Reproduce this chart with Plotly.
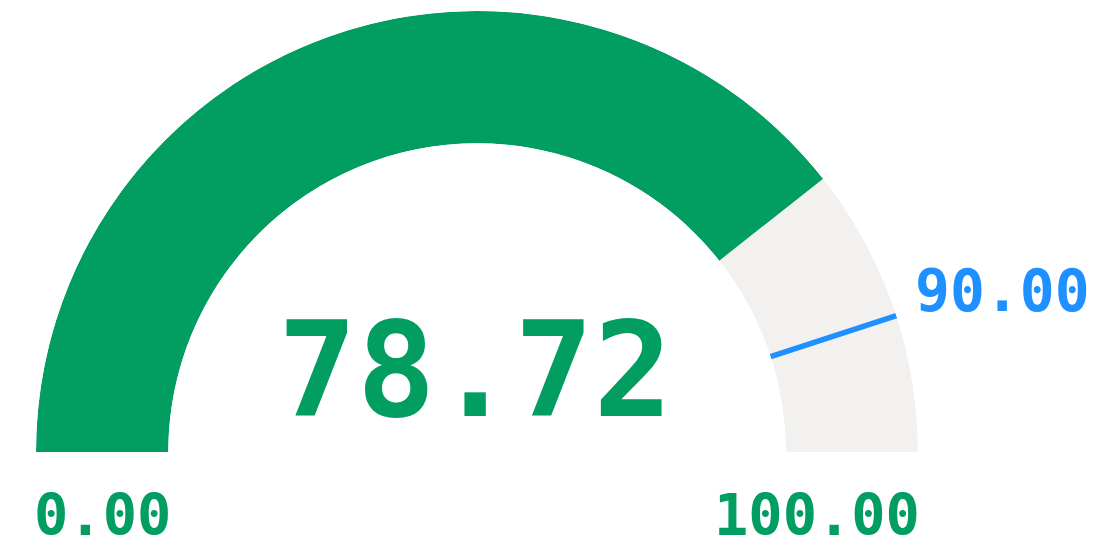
import plotly.graph_objects as go

# ---- data ----
value = 78.72
range_min = 0.0
range_max = 100.0
threshold = 90.0

GREEN = "#029d61"
GRAY = "#f2f1f0"
BLUE = "#1e90ff"
FONT = "DejaVu Sans Mono"

W, H = 1097, 548
span = range_max - range_min


def to_deg(v):
    return (v - range_min) / span * 180.0


fig = go.Figure()

# background arc
fig.add_trace(go.Barpolar(
    r=[1], theta=[to_deg(range_max) / 2], width=[to_deg(range_max)],
    marker=dict(color=GRAY, line=dict(width=0)), hoverinfo="skip", showlegend=False,
))
# value arc
fig.add_trace(go.Barpolar(
    r=[1], theta=[to_deg(value) / 2], width=[to_deg(value)],
    marker=dict(color=GREEN, line=dict(width=0)), hoverinfo="skip", showlegend=False,
))
# threshold line
fig.add_trace(go.Scatterpolar(
    r=[0, 1], theta=[to_deg(threshold)] * 2, mode="lines",
    line=dict(color=BLUE, width=5.5), hoverinfo="skip", showlegend=False,
    cliponaxis=False,
))

fig.update_layout(
    width=W, height=H,
    margin=dict(l=0, r=0, t=0, b=0),
    paper_bgcolor="white",
    barmode="overlay",
    polar=dict(
        domain=dict(x=[36 / W, 918 / W], y=[1 - 452 / H, 1 - 11 / H]),
        sector=[0, 180],
        hole=0.7,
        bgcolor="rgba(0,0,0,0)",
        radialaxis=dict(range=[0, 1], visible=False, showgrid=False),
        angularaxis=dict(visible=False, showgrid=False, rotation=180,
                         direction="clockwise"),
    ),
)


def px(x):
    return x / W


def py(y):
    return 1 - y / H


common = dict(xref="paper", yref="paper", showarrow=False, yanchor="middle")
fig.add_annotation(text=f"{value:.2f}", x=px(475), y=py(370), xanchor="center",
                   font=dict(family=FONT, size=131, color=GREEN, weight="bold"), **common)
fig.add_annotation(text=f"{range_min:.2f}", x=px(32), y=py(515), xanchor="left",
                   font=dict(family=FONT, size=57, color=GREEN, weight="bold"), **common)
fig.add_annotation(text=f"{range_max:.2f}", x=px(922), y=py(515), xanchor="right",
                   font=dict(family=FONT, size=57, color=GREEN, weight="bold"), **common)
fig.add_annotation(text=f"{threshold:.2f}", x=px(913), y=py(291), xanchor="left",
                   font=dict(family=FONT, size=58, color=BLUE, weight="bold"), **common)

fig.write_html("out.html", config={"displayModeBar": False},
               post_script="document.body.style.margin='0';document.body.style.overflow='hidden';")
